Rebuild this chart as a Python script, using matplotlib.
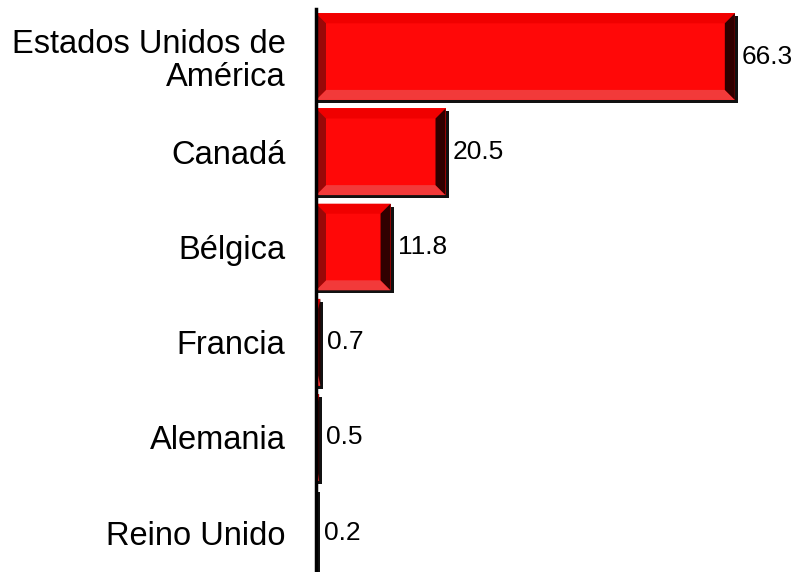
import matplotlib
matplotlib.use("Agg")
import matplotlib.pyplot as plt
from matplotlib.patches import Polygon, Rectangle

categories = ["Estados Unidos de\nAmérica", "Canadá", "Bélgica", "Francia", "Alemania", "Reino Unido"]
values = [66.3, 20.5, 11.8, 0.7, 0.5, 0.2]
value_labels = ["66.3", "20.5", "11.8", "0.7", "0.5", "0.2"]

plt.rcParams['font.family'] = ['Liberation Sans', 'DejaVu Sans']

W, H = 798, 572
fig = plt.figure(figsize=(W / 100, H / 100), dpi=100)
ax = fig.add_axes([316 / W, 0, 1 - 316 / W, 1 - 9 / H])
ax.set_xlim(0, 76.3)
ax.set_ylim(5.414, -0.5)

px_x = 76.3 / (W - 316)          # data units per pixel, x
px_y = 5.914 / (H - 9)           # data units per pixel, y

bar_h = 0.91
center_c = "#ff0808"
top_c = "#f00000"
left_c = "#9a0808"
right_c = "#300000"
bottom_c = "#f23a3a"

for i, v in enumerate(values):
    y0 = i - bar_h / 2
    y1 = i + bar_h / 2
    # shadow
    ax.add_patch(Rectangle((2 * px_x, y0 + 3 * px_y), v + 1 * px_x, bar_h, facecolor="#111111",
                           edgecolor="none", zorder=1))
    ax.add_patch(Rectangle((0, y0), v, bar_h, facecolor=center_c, edgecolor="none", zorder=2))
    bx = min(10 * px_x, v / 2)
    by = min(10 * px_y, bar_h / 2)
    ax.add_patch(Polygon([(0, y0), (v, y0), (v - bx, y0 + by), (bx, y0 + by)],
                         facecolor=top_c, edgecolor="none", zorder=3))
    ax.add_patch(Polygon([(0, y1), (v, y1), (v - bx, y1 - by), (bx, y1 - by)],
                         facecolor=bottom_c, edgecolor="none", zorder=3))
    ax.add_patch(Polygon([(0, y0), (bx, y0 + by), (bx, y1 - by), (0, y1)],
                         facecolor=left_c, edgecolor="none", zorder=3))
    ax.add_patch(Polygon([(v, y0), (v - bx, y0 + by), (v - bx, y1 - by), (v, y1)],
                         facecolor=right_c, edgecolor="none", zorder=3))
    ax.text(v + 7 * px_x, i, value_labels[i], va="center", ha="left",
            fontsize=19, color="black", zorder=5)

ax.set_yticks(range(len(categories)))
ax.set_yticklabels(categories, fontsize=23.5, linespacing=1.1)
ax.tick_params(axis="y", length=0, pad=22)
ax.set_xticks([])
for s in ["top", "right", "bottom"]:
    ax.spines[s].set_visible(False)
ax.spines["left"].set_linewidth(2.5)
ax.spines["left"].set_zorder(6)

fig.savefig("out.png", dpi=100)
